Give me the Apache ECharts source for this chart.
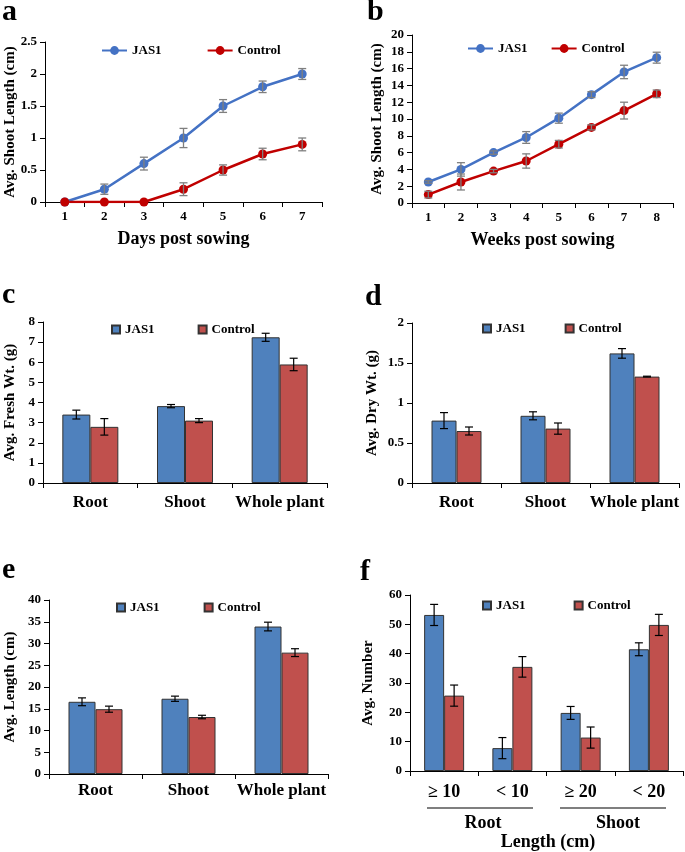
<!DOCTYPE html>
<html><head><meta charset="utf-8">
<script src="https://cdn.jsdelivr.net/npm/echarts@6/dist/echarts.min.js"></script>
<style>
body{margin:0;background:#fff;width:685px;height:852px;position:relative;overflow:hidden}
.p{position:absolute}
</style></head><body>
<div id="pa" class="p" style="left:0;top:0;width:342px;height:265px"></div>
<div id="pb" class="p" style="left:342px;top:0;width:343px;height:265px"></div>
<div id="pc" class="p" style="left:0;top:280px;width:342px;height:265px"></div>
<div id="pd" class="p" style="left:342px;top:280px;width:343px;height:265px"></div>
<div id="pe" class="p" style="left:0;top:555px;width:342px;height:260px"></div>
<div id="pf" class="p" style="left:342px;top:555px;width:343px;height:297px"></div>
<script>
// ---------- data ----------
const dayLabels = ['1','2','3','4','5','6','7'];
const aJas = [0, 0.2, 0.6, 1.0, 1.5, 1.8, 2.0];
const aJasErr = [0, 0.08, 0.1, 0.15, 0.1, 0.09, 0.085];
const aCtrl = [0, 0, 0, 0.2, 0.5, 0.75, 0.9];
const aCtrlErr = [0, 0, 0, 0.1, 0.08, 0.09, 0.1];

const weekLabels = ['1','2','3','4','5','6','7','8'];
const bJas = [2.5, 4.0, 6.0, 7.8, 10.1, 12.9, 15.6, 17.3];
const bJasErr = [0.15, 0.8, 0.2, 0.7, 0.6, 0.35, 0.8, 0.65];
const bCtrl = [1.0, 2.5, 3.8, 5.0, 7.0, 9.0, 11.0, 13.0];
const bCtrlErr = [0.4, 0.95, 0.2, 0.85, 0.45, 0.3, 1.0, 0.45];

const partLabels = ['Root', 'Shoot', 'Whole plant'];
const cJas = [3.40, 3.82, 7.24];
const cJasErr = [0.22, 0.08, 0.2];
const cCtrl = [2.79, 3.10, 5.89];
const cCtrlErr = [0.41, 0.1, 0.31];

const dJas = [0.78, 0.84, 1.62];
const dJasErr = [0.1, 0.05, 0.06];
const dCtrl = [0.65, 0.68, 1.33];
const dCtrlErr = [0.05, 0.07, 0.005];

const eJas = [16.6, 17.3, 33.9];
const eJasErr = [0.9, 0.6, 1.0];
const eCtrl = [14.9, 13.1, 27.9];
const eCtrlErr = [0.7, 0.4, 0.9];

const lenLabels = ['\u2265 10', '< 10', '\u2265 20', '< 20'];
const fJas = [53.2, 7.8, 19.8, 41.5];
const fJasErr = [3.6, 3.6, 2.2, 2.2];
const fCtrl = [25.7, 35.5, 11.4, 49.8];
const fCtrlErr = [3.6, 3.5, 3.6, 3.6];
const fGroups = ['Root', 'Shoot'];
const fXTitle = 'Length (cm)';

// ---------- style ----------
const FONT = "'Liberation Serif','Times New Roman',serif";
const BLUE_L = '#4472C4', RED_L = '#C00000';
const BLUE_B = '#4F81BD', RED_B = '#C0504D';

function errSeries(name, means, errs, offset, color, cap, width) {
  return {
    type: 'custom', name: name, silent: true, z: 10,
    encode: {x: 0, y: 1},
    data: means.map((m, i) => [i, m, errs[i]]),
    renderItem: function (params, api) {
      const e = api.value(2);
      if (!e) return {type: 'group', children: []};
      const hi = api.coord([api.value(0), api.value(1) + e]);
      const lo = api.coord([api.value(0), api.value(1) - e]);
      const x = hi[0] + offset;
      const st = {stroke: color, lineWidth: width};
      return {type: 'group', children: [
        {type: 'line', shape: {x1: x, y1: hi[1], x2: x, y2: lo[1]}, style: st},
        {type: 'line', shape: {x1: x - cap, y1: hi[1], x2: x + cap, y2: hi[1]}, style: st},
        {type: 'line', shape: {x1: x - cap, y1: lo[1], x2: x + cap, y2: lo[1]}, style: st}
      ]};
    }
  };
}

function letter(ch, x, y) {
  return {type: 'text', left: x, top: y - 15,
    style: {text: ch, font: 'bold 30px ' + FONT, fill: '#000'}};
}

function yAxisCfg(min, max, interval, name, gap) {
  return {
    type: 'value', min: min, max: max, interval: interval,
    name: name, nameLocation: 'middle', nameGap: gap, nameRotate: 90,
    nameMoveOverlap: false,
    nameTextStyle: {fontFamily: FONT, fontWeight: 'bold', fontSize: 15, color: '#000'},
    axisLine: {show: true, lineStyle: {color: '#000', width: 1}},
    axisTick: {show: true, length: 5, lineStyle: {color: '#000'}},
    axisLabel: {fontFamily: FONT, fontWeight: 'bold', fontSize: 13, color: '#000', margin: 8},
    splitLine: {show: false}
  };
}

function lineChart(id, letterCh, letterX, cats, j, je, c, ce, grid, xTitle, yTitle, ymax, yint, legLeft, legTop, legGap, yGap) {
  const ch = echarts.init(document.getElementById(id));
  grid.outerBoundsMode = 'none';
  grid.containLabel = false;
  ch.setOption({
    animation: false,
    graphic: [letter(letterCh, letterX, 12)],
    legend: {left: legLeft, top: legTop, itemGap: legGap, itemWidth: 25, itemHeight: 11,
      data: ['JAS1', 'Control'],
      textStyle: {fontFamily: FONT, fontWeight: 'bold', fontSize: 13, color: '#000'}},
    grid: grid,
    xAxis: {type: 'category', data: cats, boundaryGap: true,
      name: xTitle, nameLocation: 'middle', nameGap: 28, nameMoveOverlap: false,
      nameTextStyle: {fontFamily: FONT, fontWeight: 'bold', fontSize: 18, color: '#000'},
      axisLine: {lineStyle: {color: '#000', width: 1}},
      axisTick: {show: true, length: 5, interval: 0, lineStyle: {color: '#000'}},
      axisLabel: {fontFamily: FONT, fontWeight: 'bold', fontSize: 13, color: '#000', margin: 8}},
    yAxis: yAxisCfg(0, ymax, yint, yTitle, yGap),
    series: [
      {type: 'line', name: 'JAS1', data: j, color: BLUE_L, symbol: 'circle', symbolSize: 9,
        lineStyle: {width: 2.5, color: BLUE_L}, itemStyle: {color: BLUE_L}},
      {type: 'line', name: 'Control', data: c, color: RED_L, symbol: 'circle', symbolSize: 9,
        lineStyle: {width: 2.5, color: RED_L}, itemStyle: {color: RED_L}},
      errSeries('errJ', j, je, 0, '#7f7f7f', 4, 1.3),
      errSeries('errC', c, ce, 0, '#7f7f7f', 4, 1.3)
    ]
  });
  return ch;
}

function barChart(id, letterCh, letterX, letterY, cats, j, je, c, ce, grid, yTitle, ymax, yint, yGap, bw, legLeft, legTop, legGap, labelMargin, labelFs, extraGraphic) {
  const ch = echarts.init(document.getElementById(id));
  grid.outerBoundsMode = 'none';
  grid.containLabel = false;
  const g = [letter(letterCh, letterX, letterY)].concat(extraGraphic || []);
  ch.setOption({
    animation: false,
    graphic: g,
    legend: {left: legLeft, top: legTop, itemGap: legGap, itemWidth: 8, itemHeight: 8,
      icon: 'rect', data: ['JAS1', 'Control'],
      textStyle: {fontFamily: FONT, fontWeight: 'bold', fontSize: 13, color: '#000'}},
    grid: grid,
    xAxis: {type: 'category', data: cats, boundaryGap: true,
      axisLine: {lineStyle: {color: '#000', width: 1}},
      axisTick: {show: true, length: 5, interval: 0, lineStyle: {color: '#000'}},
      axisLabel: {fontFamily: FONT, fontWeight: 'bold', fontSize: labelFs, color: '#000', margin: labelMargin, interval: 0}},
    yAxis: yAxisCfg(0, ymax, yint, yTitle, yGap),
    series: [
      {type: 'bar', name: 'JAS1', data: j, barWidth: bw, barGap: '0%',
        itemStyle: {color: BLUE_B, borderColor: '#333', borderWidth: 1}},
      {type: 'bar', name: 'Control', data: c, barWidth: bw, barGap: '0%',
        itemStyle: {color: RED_B, borderColor: '#333', borderWidth: 1}},
      errSeries('errJ', j, je, -bw / 2, '#000', 4, 1.2),
      errSeries('errC', c, ce, bw / 2, '#000', 4, 1.2)
    ]
  });
  return ch;
}

lineChart('pa', 'a', 2, dayLabels, aJas, aJasErr, aCtrl, aCtrlErr,
  {left: 45, top: 42, right: 20, bottom: 63}, 'Days post sowing', 'Avg. Shoot Length (cm)',
  2.5, 0.5, 96, 39, 45, 27);
lineChart('pb', 'b', 25, weekLabels, bJas, bJasErr, bCtrl, bCtrlErr,
  {left: 70, top: 35, right: 12, bottom: 62}, 'Weeks post sowing', 'Avg. Shoot Length (cm)',
  20, 2, 120, 37, 23, 27);

barChart('pc', 'c', 2, 15, partLabels, cJas, cJasErr, cCtrl, cCtrlErr,
  {left: 43, top: 42, right: 15, bottom: 62}, 'Avg. Fresh Wt. (g)', 8, 1, 25, 28, 106, 38, 43, 11, 17);
barChart('pd', 'd', 23, 17, partLabels, dJas, dJasErr, dCtrl, dCtrlErr,
  {left: 70, top: 43, right: 6, bottom: 62}, 'Avg. Dry Wt. (g)', 2, 0.5, 32, 25, 135, 37, 39, 11, 17);
barChart('pe', 'e', 2, 15, partLabels, eJas, eJasErr, eCtrl, eCtrlErr,
  {left: 49, top: 45, right: 14, bottom: 41}, 'Avg. Length (cm)', 40, 5, 31, 27, 111, 41, 44, 8, 17);

const fText = {fontFamily: FONT, fontWeight: 'bold', fontSize: 18, fill: '#000', align: 'center', verticalAlign: 'middle'};
const fExtra = [
  {type: 'line', shape: {x1: 85, y1: 253, x2: 191, y2: 253}, style: {stroke: '#000', lineWidth: 1.2}},
  {type: 'line', shape: {x1: 218, y1: 253, x2: 324, y2: 253}, style: {stroke: '#000', lineWidth: 1.2}},
  {type: 'text', x: 141, y: 268, style: Object.assign({text: fGroups[0]}, fText)},
  {type: 'text', x: 276, y: 268, style: Object.assign({text: fGroups[1]}, fText)},
  {type: 'text', x: 206, y: 287, style: Object.assign({text: fXTitle}, fText)}
];
barChart('pf', 'f', 18, 17, lenLabels, fJas, fJasErr, fCtrl, fCtrlErr,
  {left: 68, top: 40, right: 2, bottom: 81}, 'Avg. Number', 60, 10, 34, 20, 135, 39, 48, 12, 18, fExtra);
</script>
</body></html>
